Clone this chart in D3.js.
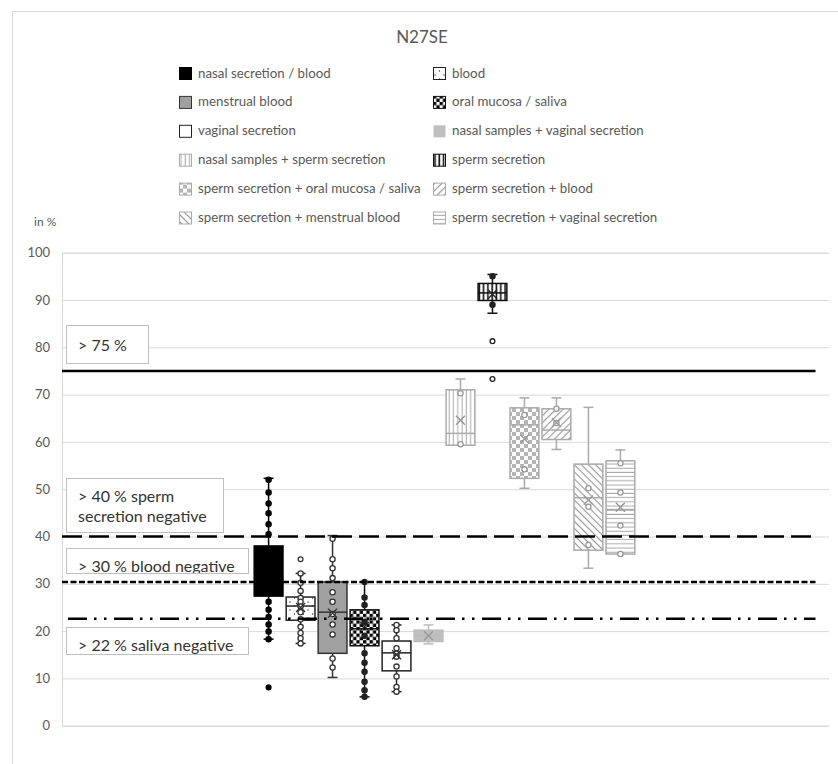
<!DOCTYPE html>
<html>
<head>
<meta charset="utf-8">
<script src="https://cdn.jsdelivr.net/npm/d3@7"></script>
<style>
  body { margin: 0; background: #fff; }
  svg { display: block; font-family: Lato, "Open Sans", sans-serif; }
</style>
</head>
<body>
<svg width="838" height="764"></svg>
<script>
// categories (series of the box plot)
const categories = [
  'nasal secretion / blood', 'blood', 'menstrual blood', 'oral mucosa / saliva',
  'vaginal secretion', 'nasal samples + vaginal secretion', 'nasal samples + sperm secretion',
  'sperm secretion', 'sperm secretion + oral mucosa / saliva', 'sperm secretion + blood',
  'sperm secretion + menstrual blood', 'sperm secretion + vaginal secretion'
]
const whiskerLow  = [18.3, 17.4, 10.2,  6.1,  7.2, 17.3, 59.3, 87.2, 50.2, 58.4, 33.3, 36.3]
const q1          = [27.4, 22.3, 15.3, 16.9, 11.6, 17.8, 59.3, 89.9, 52.3, 60.5, 37.1, 36.3]
const medians     = [32.0, 25.3, 24.0, 20.5, 15.4, 19.0, 61.8, 91.5, 63.6, 62.5, 48.2, 45.7]
const q3          = [38.0, 27.2, 30.4, 24.5, 17.9, 20.2, 71.0, 93.5, 67.2, 67.0, 55.3, 56.0]
const whiskerHigh = [52.3, 32.2, 40.2, 30.4, 21.3, 21.3, 73.3, 95.4, 69.3, 69.3, 67.3, 58.3]
const means       = [32.5, 25.0, 23.8, 21.0, 15.0, 19.0, 64.6, 91.2, 60.6, 64.1, 47.7, 46.2]
const points = [
  [52, 49.3, 47, 44.9, 42.6, 40.5, 26.2, 24.5, 23, 21.4, 19.9, 18.3],
  [32.2, 30.2, 28.5, 27, 26.2, 25.2, 24, 22.5, 20.9, 19.6, 18.5, 17.4],
  [39.5, 35.2, 33.3, 31.2, 28.2, 26.2, 23.6, 21.4, 19.3, 14.2, 12.3],
  [30.4, 27.1, 25.5, 22, 19, 15.3, 13.3, 11.4, 9.3, 7.5, 6.1],
  [21.3, 20.2, 18.5, 16.4, 15.2, 14.6, 12.5, 10.4, 8.2, 7.2],
  [],
  [70.3, 59.5],
  [95, 89],
  [65.7, 54.2],
  [67, 64],
  [50.2, 46.3, 38.2],
  [55.5, 49.3, 42.3, 36.3]
]
const outliers = [[8.1], [35.2], [], [], [], [], [], [81.3, 73.3], [], [], [], []]

// threshold lines
const thresholds = [75, 40, 30.4, 22.6]
const thresholdLabels = [['> 75 %'], ['> 40 % sperm', 'secretion negative'], ['> 30 % blood negative'], ['> 22 % saliva negative']]
const yTicks = [0, 10, 20, 30, 40, 50, 60, 70, 80, 90, 100]

// look of each series
const looks = [
  { fill: '#000', stroke: '#000', pt: '#000', ptFill: '#000' },
  { fill: 'url(#dots)', stroke: '#222', pt: '#333', ptFill: '#fff' },
  { fill: '#a0a0a0', stroke: '#333', pt: '#333', ptFill: '#fff' },
  { fill: 'url(#check)', stroke: '#111', pt: '#222', ptFill: '#222' },
  { fill: '#fff', stroke: '#222', pt: '#333', ptFill: '#fff' },
  { fill: '#bfbfbf', stroke: '#bbb', pt: '#999', ptFill: '#fff' },
  { fill: 'url(#vgray)', stroke: '#aaa', pt: '#999', ptFill: '#fff' },
  { fill: 'url(#vblack)', stroke: '#111', pt: '#222', ptFill: '#222' },
  { fill: 'url(#checkgray)', stroke: '#aaa', pt: '#999', ptFill: '#fff' },
  { fill: 'url(#diagup)', stroke: '#aaa', pt: '#999', ptFill: '#fff' },
  { fill: 'url(#diagdown)', stroke: '#aaa', pt: '#999', ptFill: '#fff' },
  { fill: 'url(#horiz)', stroke: '#aaa', pt: '#999', ptFill: '#fff' }
]
const outlierColor = ['#000', '#333', '', '', '', '', '', '#222']

const svg = d3.select('svg')
const defs = svg.append('defs')

function pattern(id, w, h, draw, transform) {
  const p = defs.append('pattern').attr('id', id).attr('patternUnits', 'userSpaceOnUse')
    .attr('width', w).attr('height', h)
  if (transform) p.attr('patternTransform', transform)
  p.append('rect').attr('width', w).attr('height', h).attr('fill', '#fff')
  draw(p)
}
pattern('dots', 9, 8, p => {
  p.append('circle').attr('cx', 2).attr('cy', 2).attr('r', 0.7).attr('fill', '#333')
  p.append('circle').attr('cx', 6.5).attr('cy', 6).attr('r', 0.7).attr('fill', '#333')
})
pattern('check', 6.6, 6.6, p => {
  p.append('rect').attr('width', 3.3).attr('height', 3.3).attr('fill', '#000')
  p.append('rect').attr('x', 3.3).attr('y', 3.3).attr('width', 3.3).attr('height', 3.3).attr('fill', '#000')
})
pattern('checkgray', 8, 8, p => {
  p.append('rect').attr('width', 4).attr('height', 4).attr('fill', '#b5b5b5')
  p.append('rect').attr('x', 4).attr('y', 4).attr('width', 4).attr('height', 4).attr('fill', '#b5b5b5')
})
pattern('vgray', 4.3, 4, p => {
  p.append('line').attr('x1', 2).attr('x2', 2).attr('y1', 0).attr('y2', 4).attr('stroke', '#aaa').attr('stroke-width', 1)
})
pattern('vblack', 4.3, 4, p => {
  p.append('line').attr('x1', 2).attr('x2', 2).attr('y1', 0).attr('y2', 4).attr('stroke', '#111').attr('stroke-width', 1.6)
})
pattern('diagup', 5, 5, p => {
  p.append('line').attr('x1', 2.5).attr('x2', 2.5).attr('y1', 0).attr('y2', 5).attr('stroke', '#999').attr('stroke-width', 1.2)
}, 'rotate(45)')
pattern('diagdown', 5, 5, p => {
  p.append('line').attr('x1', 2.5).attr('x2', 2.5).attr('y1', 0).attr('y2', 5).attr('stroke', '#999').attr('stroke-width', 1.2)
}, 'rotate(-45)')
pattern('horiz', 4, 4.2, p => {
  p.append('line').attr('x1', 0).attr('x2', 4).attr('y1', 2).attr('y2', 2).attr('stroke', '#aaa').attr('stroke-width', 1)
})

// frame
svg.append('rect').attr('x', 12.5).attr('y', 11.5).attr('width', 840).attr('height', 800)
  .attr('fill', '#fff').attr('stroke', '#d9d9d9')

svg.append('text').attr('x', 422).attr('y', 43).attr('text-anchor', 'middle')
  .attr('font-size', 17).attr('fill', '#595959').text('N27SE')

// legend
const legend = svg.append('g')
categories.forEach((c, i) => {
  const col = i % 2, row = Math.floor(i / 2)
  const g = legend.append('g').attr('transform', `translate(${col ? 433 : 179},${73 + row * 28.9})`)
  g.append('rect').attr('x', 0.5).attr('y', -5.5).attr('width', 12).attr('height', 12)
    .attr('fill', looks[i].fill).attr('stroke', i === 5 ? 'none' : looks[i].stroke)
  g.append('text').attr('x', 19).attr('y', 4.5).attr('font-size', 13.3).attr('fill', '#595959').text(c)
})

const x = d3.scaleBand().domain(categories).range([251, 638]).padding(0.1)
const y = d3.scaleLinear().domain([0, 100]).range([725.7, 252.7])
const plotLeft = 62, plotRight = 829

svg.append('text').attr('x', 34).attr('y', 226).attr('font-size', 12).attr('fill', '#595959').text('in %')

// grid + y axis
const yAxis = svg.append('g').attr('transform', `translate(${plotLeft},0)`)
  .call(d3.axisLeft(y).tickValues(yTicks).tickSize(-(plotRight - plotLeft)).tickPadding(12))
yAxis.select('.domain').attr('stroke', '#d9d9d9')
yAxis.selectAll('.tick line').attr('stroke', '#d9d9d9')
yAxis.selectAll('.tick text').attr('fill', '#595959').attr('font-size', 13).attr('font-family', 'Lato, sans-serif')

// boxes
const bw = x.bandwidth(), cap = 10
categories.forEach((c, i) => {
  const g = svg.append('g'), lk = looks[i]
  const cx = x(c) + bw / 2
  g.append('line').attr('x1', cx).attr('x2', cx).attr('y1', y(whiskerLow[i])).attr('y2', y(whiskerHigh[i]))
    .attr('stroke', lk.stroke).attr('stroke-width', 1.5)
  ;[whiskerLow[i], whiskerHigh[i]].forEach(v => {
    g.append('line').attr('x1', cx - cap / 2).attr('x2', cx + cap / 2).attr('y1', y(v)).attr('y2', y(v))
      .attr('stroke', lk.stroke).attr('stroke-width', 1.5)
  })
  g.append('rect').attr('x', x(c)).attr('y', y(q3[i])).attr('width', bw).attr('height', y(q1[i]) - y(q3[i]))
    .attr('fill', lk.fill).attr('stroke', lk.stroke).attr('stroke-width', 1.5)
  g.append('line').attr('x1', x(c)).attr('x2', x(c) + bw).attr('y1', y(medians[i])).attr('y2', y(medians[i]))
    .attr('stroke', lk.stroke).attr('stroke-width', 1.5)
  points[i].forEach(v => {
    g.append('circle').attr('cx', cx).attr('cy', y(v)).attr('r', 2.6)
      .attr('fill', lk.ptFill).attr('stroke', lk.pt).attr('stroke-width', 1.3)
  })
  outliers[i].forEach(v => {
    g.append('circle').attr('cx', cx).attr('cy', y(v)).attr('r', 2.4)
      .attr('fill', i === 0 ? '#000' : '#fff').attr('stroke', outlierColor[i]).attr('stroke-width', 1.3)
  })
  const m = 4.5, my = y(means[i])
  g.append('path').attr('d', `M${cx - m},${my - m}L${cx + m},${my + m}M${cx - m},${my + m}L${cx + m},${my - m}`)
    .attr('stroke', i === 0 ? '#000' : lk.pt).attr('stroke-width', 1.4).attr('fill', 'none')
})

// threshold lines
const dashes = [null, '20,7', '6,2.5', '19,7,2.5,7.5,2.5,7.5']
thresholds.forEach((t, i) => {
  svg.append('line').attr('x1', i === 3 ? 68 : plotLeft).attr('x2', 815.5)
    .attr('y1', y(t)).attr('y2', y(t)).attr('stroke', '#000').attr('stroke-width', 2.5)
    .attr('stroke-dasharray', dashes[i])
})

// threshold label boxes
const labelBoxes = [
  { top: 325, bottom: 363, right: 148 },
  { top: 478, bottom: 532, right: 223 },
  { top: 548, bottom: 573, right: 248 },
  { top: 627, bottom: 654, right: 248 }
]
labelBoxes.forEach((b, i) => {
  defs.append('clipPath').attr('id', 'clip' + i).append('rect')
    .attr('x', 66).attr('y', b.top).attr('width', b.right - 66).attr('height', b.bottom - b.top)
  svg.append('rect').attr('x', 66.5).attr('y', b.top + 0.5).attr('width', b.right - 66).attr('height', b.bottom - b.top)
    .attr('fill', '#fff').attr('stroke', '#bfbfbf')
  const t = svg.append('text').attr('clip-path', `url(#clip${i})`).attr('font-size', 16).attr('fill', '#333')
  thresholdLabels[i].forEach((s, k) => {
    t.append('tspan').attr('x', 78).attr('y', (i === 0 ? 351 : b.top + 24) + k * 20).text(s)
  })
})
</script>
</body>
</html>
